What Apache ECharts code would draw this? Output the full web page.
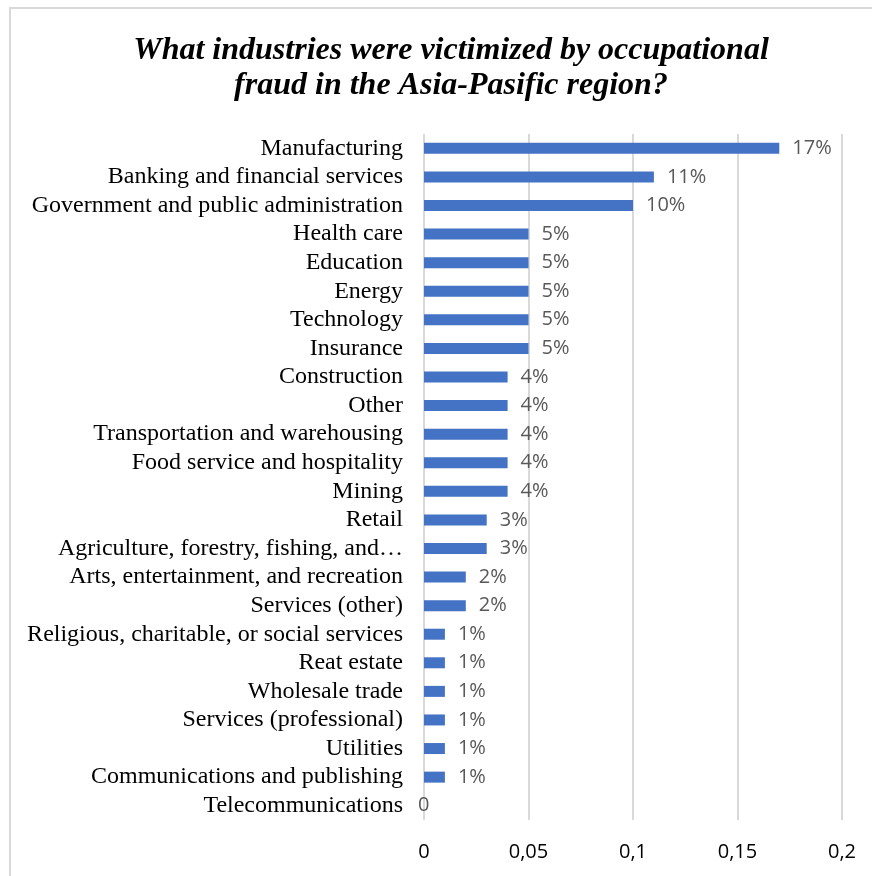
<!DOCTYPE html>
<html>
<head>
<meta charset="utf-8">
<script src="https://cdn.jsdelivr.net/npm/echarts@6/dist/echarts.min.js"></script>
<style>
html, body { margin: 0; padding: 0; background: #fff; overflow: hidden; }
#frame {
  position: absolute; left: 9px; top: 7px; width: 900px; height: 900px;
  border: 2px solid #d9d9d9; box-sizing: border-box;
}
#chart { position: absolute; left: 0; top: 0; width: 872px; height: 876px; }
</style>
</head>
<body>
<div id="frame"></div>
<div id="chart"></div>
<script>
var categories = [
  'Manufacturing',
  'Banking and financial services',
  'Government and public administration',
  'Health care',
  'Education',
  'Energy',
  'Technology',
  'Insurance',
  'Construction',
  'Other',
  'Transportation and warehousing',
  'Food service and hospitality',
  'Mining',
  'Retail',
  'Agriculture, forestry, fishing, and\u2026',
  'Arts, entertainment, and recreation',
  'Services (other)',
  'Religious, charitable, or social services',
  'Reat estate',
  'Wholesale trade',
  'Services (professional)',
  'Utilities',
  'Communications and publishing',
  'Telecommunications'
];
var values = [0.17, 0.11, 0.10, 0.05, 0.05, 0.05, 0.05, 0.05, 0.04, 0.04, 0.04, 0.04, 0.04,
  0.03, 0.03, 0.02, 0.02, 0.01, 0.01, 0.01, 0.01, 0.01, 0.01, 0];
var axisTicks = [0, 0.05, 0.1, 0.15, 0.2];

// zero bar: Excel puts its label right on the axis
var barData = values.map(function (v) {
  return v === 0 ? { value: v, label: { distance: -6 } } : v;
});

var chart = echarts.init(document.getElementById('chart'));
chart.setOption({
  animation: false,
  title: {
    text: 'What industries were victimized by occupational\nfraud in the Asia-Pasific region?',
    left: 446,
    textAlign: 'center',
    top: 28,
    textStyle: {
      fontFamily: 'Liberation Serif',
      fontStyle: 'italic',
      fontWeight: 'bold',
      fontSize: 32,
      lineHeight: 35,
      color: '#000'
    }
  },
  grid: { left: 424, right: 30, top: 134, bottom: 56, containLabel: false },
  xAxis: {
    type: 'value',
    min: axisTicks[0],
    max: axisTicks[axisTicks.length - 1],
    interval: 0.05,
    axisLine: { show: false },
    axisTick: { show: false },
    splitLine: { show: true, lineStyle: { color: '#d9d9d9', width: 2 } },
    axisLabel: {
      margin: 22,
      fontFamily: 'Open Sans',
      fontSize: 20,
      color: '#000',
      formatter: function (v) { return String(v).replace('.', ','); }
    }
  },
  yAxis: {
    type: 'category',
    inverse: true,
    data: categories,
    axisLine: { show: false },
    axisTick: { show: false },
    axisLabel: {
      interval: 0,
      margin: 21,
      fontFamily: 'Liberation Serif',
      fontSize: 24,
      color: '#000'
    }
  },
  series: [{
    type: 'bar',
    data: barData,
    barWidth: 11,
    itemStyle: { color: '#4472c4' },
    label: {
      show: true,
      position: 'right',
      distance: 13,
      fontFamily: 'Open Sans',
      fontSize: 20,
      color: '#595959',
      formatter: function (p) { return p.value === 0 ? '0' : Math.round(p.value * 100) + '%'; }
    }
  }]
});
</script>
</body>
</html>
